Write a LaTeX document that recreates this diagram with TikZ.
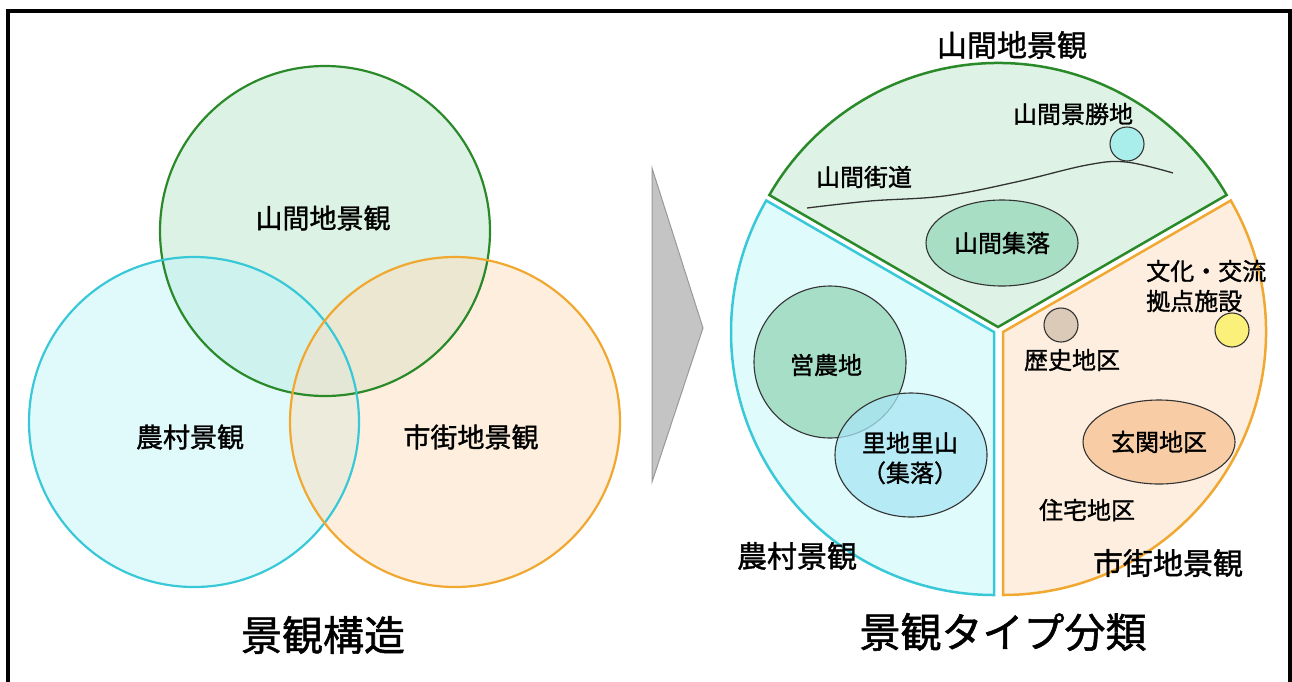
\documentclass[tikz,border=0pt]{standalone}
\usepackage{fontspec}
\setmainfont{Noto Sans CJK JP}[FakeBold=1.3]
\usetikzlibrary{shapes.geometric}
\definecolor{gstroke}{HTML}{2A8A2A}
\definecolor{gfill}{HTML}{B9E5C9}
\definecolor{cstroke}{HTML}{38C8D8}
\definecolor{cfill}{HTML}{C1F5F9}
\definecolor{ostroke}{HTML}{F0A830}
\definecolor{ofill}{HTML}{FBDDBD}
\definecolor{gsec}{HTML}{DEF3E6}
\definecolor{csec}{HTML}{E0FBFC}
\definecolor{osec}{HTML}{FDEEE0}
\definecolor{ell1}{HTML}{A8DEC4}
\definecolor{ell2}{HTML}{A6DEC8}
\definecolor{ell3}{HTML}{A8E6F5}
\definecolor{ell4}{HTML}{F8CDA5}
\definecolor{tan}{HTML}{DCCAB8}
\definecolor{yel}{HTML}{FAF07A}
\definecolor{aqua}{HTML}{A9EEEB}
\definecolor{arrowgray}{HTML}{C4C4C4}
\tikzset{
  venn/.style={line width=2.2pt, fill opacity=0.5, text opacity=1},
  sector/.style={line width=2.5pt, line join=miter},
  blob/.style={draw=black!80, line width=1.1pt},
  t24/.style={font=\fontsize{24}{30}\selectfont, inner sep=0pt},
  t27/.style={font=\fontsize{27}{32}\selectfont, inner sep=0pt},
  t30/.style={font=\fontsize{30}{36}\selectfont, inner sep=0pt},
  t41/.style={font=\fontsize{41}{48}\selectfont, inner sep=0pt},
}
\begin{document}
\begin{tikzpicture}[x=1pt,y=-1pt]
\useasboundingbox (0,0) rectangle (1292,681);
% frame
\draw[line width=3.2pt, black] (8,700) -- (8,11) -- (1290,11) -- (1290,700);
% Venn
\path[venn, fill=gfill] (325,231) circle[radius=165pt];
\path[venn, fill=cfill] (194,422) circle[radius=165pt];
\path[venn, fill=ofill] (455,422) circle[radius=165pt];
\draw[line width=2.2pt, gstroke] (325,231) circle[radius=165pt];
\draw[line width=2.2pt, cstroke] (194,422) circle[radius=165pt];
\draw[line width=2.2pt, ostroke] (455,422) circle[radius=165pt];
\node[t27] (v1) at (323,218) {山間地景観};
\node[t27] (v2) at (190,437) {農村景観};
\node[t27] (v3) at (471,437) {市街地景観};
\node[t41] (cap1) at (323,635) {景観構造};
% arrow
\draw[draw=black!40, fill=arrowgray, line width=1pt] (652,168) -- (703,328) -- (652,482) -- cycle;
% pie sectors
\coordinate (gA) at (998,327);
\coordinate (cA) at (994,332);
\coordinate (oA) at (1003,332);
\draw[sector, draw=gstroke, fill=gsec] (gA) -- ++(150:264pt) arc[start angle=150, end angle=30, radius=264pt] -- cycle;
\draw[sector, draw=cstroke, fill=csec] (cA) -- ++(270:263pt) arc[start angle=270, end angle=150, radius=263pt] -- cycle;
\draw[sector, draw=ostroke, fill=osec] (oA) -- ++(30:263pt) arc[start angle=30, end angle=-90, radius=263pt] -- cycle;
% green sector content
\node[t30] (lg) at (1012,45) {山間地景観};
\node[t24] (sk) at (1073,114) {山間景勝地};
\node[blob, fill=aqua, circle, minimum size=34pt, inner sep=0pt] (skc) at (1127,144) {};
\draw[line width=1.3pt, black!80] plot[smooth, tension=0.6] coordinates {(807,208) (870,201) (944,196) (1016,182) (1087,165) (1126,162) (1173,173)};
\node[t24] (kd) at (864,177) {山間街道};
\node[blob, fill=ell1, ellipse, minimum width=152pt, minimum height=86pt, inner sep=0pt] (e1) at (1002,243) {};
\node[t24] at (e1) {山間集落};
% cyan sector content
\node[blob, fill=ell2, circle, minimum width=152pt, inner sep=0pt] (e2) at (830,362) {};
\node[blob, fill=ell3, fill opacity=0.75, draw opacity=1, ellipse, minimum width=152pt, minimum height=124pt, inner sep=0pt] (e3) at (911,455) {};
\node[t24] (e2t) at (826,365) {営農地};
\node[t24, align=center] (e3t) at (910,458) {里地里山\\（集落）};
\node[t30] (lc) at (797,556) {農村景観};
% orange sector content
\node[t24, align=left, anchor=west] (bk) at (1146,286) {文化・交流\\拠点施設};
\node[blob, fill=tan, circle, minimum size=34pt, inner sep=0pt] (rc) at (1061,325) {};
\node[blob, fill=yel, circle, minimum size=34pt, inner sep=0pt] (yc) at (1232,330) {};
\node[t24] (rs) at (1072,360) {歴史地区};
\node[blob, fill=ell4, ellipse, minimum width=152pt, minimum height=84pt, inner sep=0pt] (e4) at (1159,442) {};
\node[t24] at (e4) {玄関地区};
\node[t24] (jt) at (1087,510) {住宅地区};
\node[t30] (lo) at (1168,563) {市街地景観};
\node[t41] (cap2) at (1003,632) {景観タイプ分類};
\end{tikzpicture}
\end{document}
